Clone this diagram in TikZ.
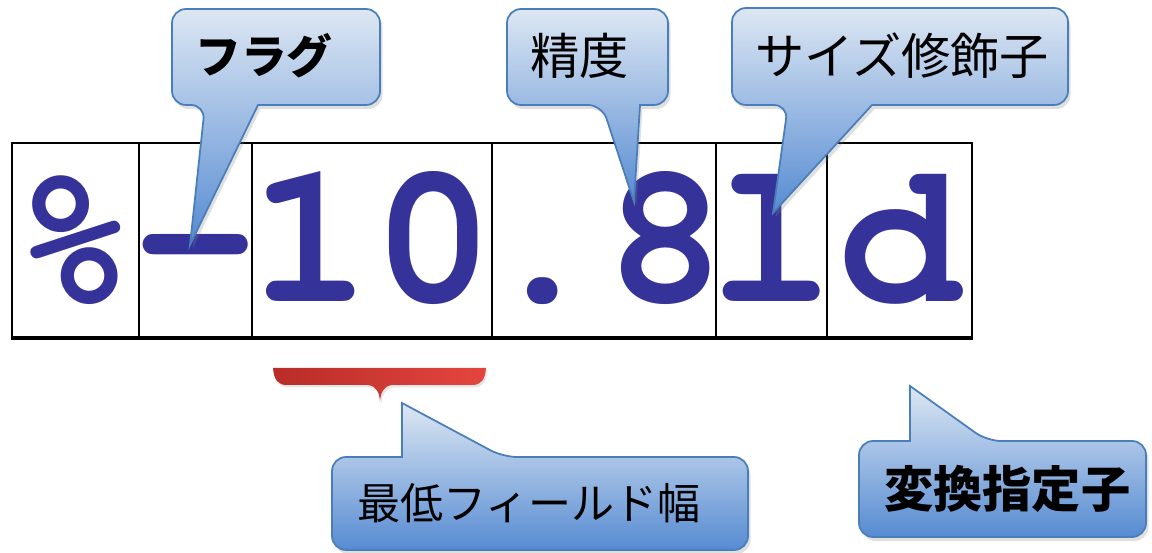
\documentclass[tikz,border=0pt]{standalone}
\usepackage[T1]{fontenc}
\usepackage{fontspec}
\newfontfamily\jafont{Noto Sans CJK JP}
\newcommand\codefont{\fontencoding{T1}\fontfamily{pcr}\fontseries{b}\selectfont}
\usetikzlibrary{shadows}
\definecolor{codeblue}{RGB}{53,51,153}
\definecolor{bubbletop}{RGB}{221,231,243}
\definecolor{bubblebot}{RGB}{86,139,210}
\definecolor{bubbleedge}{RGB}{74,126,187}
\definecolor{braceleft}{RGB}{184,44,40}
\definecolor{braceright}{RGB}{228,70,62}
\tikzset{
  cell/.style={draw, line width=1.2pt, inner sep=0pt, minimum height=3.88cm,
    text height=3.18cm, text depth=0.70cm, text=codeblue,
    font=\codefont\fontsize{116}{116}\selectfont},
  bubble/.style={draw=bubbleedge, line width=1pt, top color=bubbletop, bottom color=bubblebot,
    drop shadow={opacity=0.25, shadow xshift=0.05cm, shadow yshift=-0.08cm}},
  bubbletext/.style={anchor=west, inner sep=0pt, font=\jafont\fontsize{28}{28}\selectfont},
  bubblebold/.style={bubbletext, font=\jafont\bfseries\fontsize{28}{28}\selectfont},
  bracebar/.style={left color=braceleft, right color=braceright,
    drop shadow={opacity=0.2, shadow xshift=0.03cm, shadow yshift=-0.05cm}}
}
\begin{document}
\begin{tikzpicture}
\useasboundingbox (0,0) rectangle (23.04,11.06);
\node[cell, minimum width=2.54cm] (pct) at (1.51,6.26) {\makebox[0pt]{\%}};
\node[cell, minimum width=2.26cm] (flag) at (3.91,6.26) {\makebox[0pt]{-}};
\node[cell, minimum width=4.80cm] (width) at (7.44,6.26) {\makebox[0pt]{10}};
\node[cell, minimum width=4.48cm] (prec) at (12.08,6.26) {\makebox[0pt]{.8}};
\node[cell, minimum width=2.22cm] (size) at (15.43,6.26) {\makebox[0pt]{l}};
\node[cell, minimum width=2.90cm] (conv) at (17.99,6.26) {\makebox[0pt]{d}};
\draw[line width=2.5pt] (pct.south west) -- (conv.south east);

\path[bracebar] (5.46,3.70) -- (9.72,3.70) .. controls (9.70,3.46) and (9.62,3.36) .. (9.44,3.36)
  -- (7.84,3.36) .. controls (7.68,3.34) and (7.61,3.22) .. (7.60,3.02)
  .. controls (7.59,3.22) and (7.52,3.34) .. (7.36,3.36)
  -- (5.74,3.36) .. controls (5.56,3.36) and (5.48,3.46) .. (5.46,3.70) -- cycle;

\coordinate (tflag) at (3.80,6.16);
\coordinate (tprec) at (12.68,7.02);
\coordinate (tsize) at (15.46,6.80);
\coordinate (twidth) at (8.04,3.00);
\coordinate (tconv) at (18.20,3.34);

\path[bubble] (5.16,8.96) [rounded corners=8pt] -- (7.60,8.96) -- (7.60,10.88) -- (3.44,10.88)
  -- (3.44,8.96) -- (4.10,8.96) [sharp corners] -- (tflag) -- cycle;
\path[bubble] (12.80,8.96) [rounded corners=8pt] -- (13.36,8.96) -- (13.36,10.88) -- (10.14,10.88)
  -- (10.14,8.96) -- (12.04,8.96) [sharp corners] -- (tprec) -- cycle;
\path[bubble] (17.44,8.96) [rounded corners=8pt] -- (21.36,8.96) -- (21.36,10.90) -- (14.64,10.90)
  -- (14.64,8.96) -- (15.76,8.96) [sharp corners] -- (tsize) -- cycle;
\path[bubble] (8.04,1.92) [rounded corners=8pt] -- (6.64,1.92) -- (6.64,0.06) -- (14.96,0.06)
  -- (14.96,1.92) -- (10.06,1.92) [sharp corners] -- (twidth) -- cycle;
\path[bubble] (18.20,2.24) [rounded corners=8pt] -- (17.18,2.24) -- (17.18,0.32) -- (22.92,0.32)
  -- (22.92,2.24) -- (19.74,2.24) [sharp corners] -- (tconv) -- cycle;

\node[bubblebold, font=\jafont\bfseries\fontsize{26}{26}\selectfont] (lflag) at (3.90,9.95) {フラグ};
\node[bubbletext] (lprec) at (10.60,9.95) {精度};
\node[bubbletext] (lsize) at (15.10,9.95) {サイズ修飾子};
\node[bubbletext, font=\jafont\fontsize{24.5}{24.5}\selectfont] (lwidth) at (7.14,0.99) {最低フィールド幅};
\node[bubblebold] (lconv) at (17.68,1.28) {変換指定子};
\end{tikzpicture}
\end{document}
